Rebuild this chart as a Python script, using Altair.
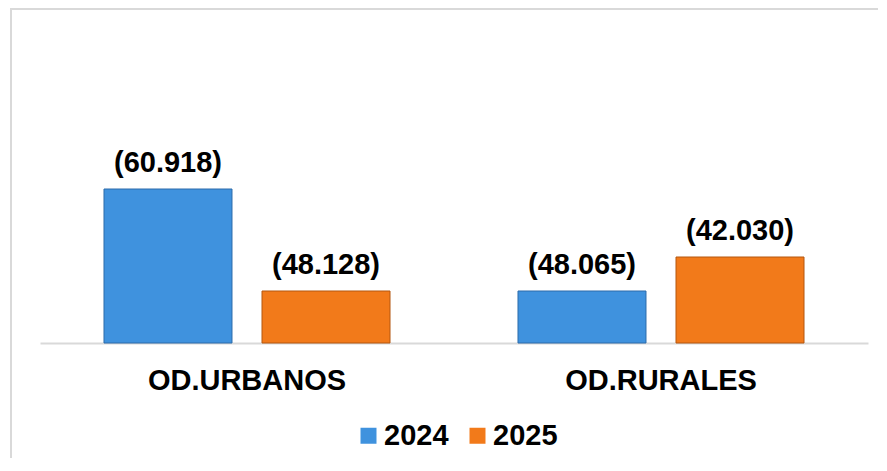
import altair as alt
import pandas as pd

# --- data ---
categorias = ["OD.URBANOS", "OD.RURALES"]
anios = ["2024", "2025"]
# bar heights as drawn in the reference (relative units, chart scale 0-313)
altura_2024 = [154, 52]
altura_2025 = [52, 86]
# data labels as printed in the reference
etiqueta_2024 = ["(60.918)", "(48.065)"]
etiqueta_2025 = ["(48.128)", "(42.030)"]

colores = ["#3F92DE", "#F27A1A"]
bordes = ["#2C6BAA", "#B4570E"]

rows = []
for i, c in enumerate(categorias):
    rows.append({"cat": c, "anio": anios[0], "valor": altura_2024[i], "etq": etiqueta_2024[i]})
    rows.append({"cat": c, "anio": anios[1], "valor": altura_2025[i], "etq": etiqueta_2025[i]})
df = pd.DataFrame(rows)

FONT = "Liberation Sans"

x_enc = alt.X(
    "cat:N",
    sort=categorias,
    scale=alt.Scale(paddingInner=0, paddingOuter=0),
    axis=alt.Axis(
        title=None,
        labelAngle=0,
        labelFont=FONT,
        labelFontSize=29,
        labelFontWeight="bold",
        labelColor="#000000",
        labelPadding=46,
        labelBaseline="alphabetic",
        labelLimit=500,
        ticks=False,
        domainColor="#D9D9D9",
        domainWidth=2,
        grid=False,
    ),
)
xoff = alt.XOffset("anio:N", sort=anios, scale=alt.Scale(paddingInner=0.19, paddingOuter=0.405))
y_enc = alt.Y("valor:Q", scale=alt.Scale(domain=[0, 313], nice=False, zero=True), axis=None)

bars = alt.Chart(df).mark_bar(strokeWidth=1).encode(
    x=x_enc,
    xOffset=xoff,
    y=y_enc,
    color=alt.Color(
        "anio:N",
        sort=anios,
        scale=alt.Scale(domain=anios, range=colores),
        legend=alt.Legend(
            title=None,
            orient="none",
            direction="horizontal",
            legendX=314,
            legendY=391,
            symbolType="square",
            symbolSize=256,
            symbolStrokeWidth=0,
            symbolOpacity=1,
            labelFont=FONT,
            labelFontSize=29,
            labelFontWeight="bold",
            labelColor="#000000",
            labelOffset=1,
            labelLimit=200,
            columnPadding=14,
            padding=0,
        ),
    ),
    stroke=alt.Stroke("anio:N", sort=anios, scale=alt.Scale(domain=anios, range=bordes), legend=None),
)

labels = alt.Chart(df).mark_text(
    font=FONT, fontSize=29, fontWeight="bold", color="#000000",
    baseline="alphabetic", dy=-17,
).encode(
    x=alt.X("cat:N", sort=categorias),
    xOffset=alt.XOffset("anio:N", sort=anios),
    y=alt.Y("valor:Q"),
    text="etq:N",
)

frame_df = pd.DataFrame({"k": [0]})
border_left = alt.Chart(frame_df).mark_rule(
    stroke="#D9D9D9", strokeWidth=2, clip=False
).encode(x=alt.value(-29), y=alt.value(-22), y2=alt.value(440))
border_top = alt.Chart(frame_df).mark_rule(
    stroke="#D9D9D9", strokeWidth=2, clip=False
).encode(x=alt.value(-30), x2=alt.value(838), y=alt.value(-21))

chart = alt.layer(border_left, border_top, bars, labels).properties(
    width=828,
    height=313,
    autosize=alt.AutoSizeParams(type="none"),
    padding={"left": 32, "top": 22, "right": 10, "bottom": 115},
).configure_view(stroke=None)

chart.save("out.html", embed_options={"renderer": "svg", "actions": False})
